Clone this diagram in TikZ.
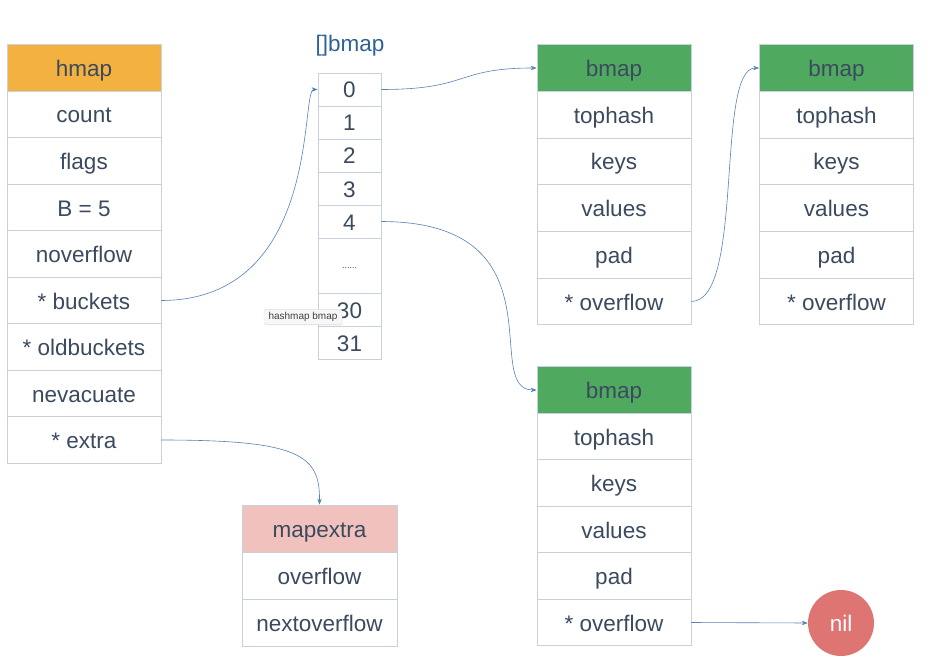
\documentclass[tikz,border=0pt]{standalone}
\usepackage{fontspec}
\setmainfont{Liberation Sans}
\usetikzlibrary{arrows.meta,shadows}
\definecolor{txt}{HTML}{3B4A5E}
\definecolor{bord}{HTML}{C9D1DC}
\definecolor{horange}{HTML}{F3B13F}
\definecolor{bgreen}{HTML}{4FAA60}
\definecolor{mpink}{HTML}{F0C1BD}
\definecolor{nilred}{HTML}{DE7572}
\definecolor{arr}{HTML}{5581B3}
\definecolor{ttl}{HTML}{2E6197}
\tikzset{
  cell/.style={draw=bord, line width=0.8pt, fill=white, inner sep=0pt, minimum width=154pt,
    font=\fontsize{22.5}{26}\selectfont, text=txt, text height=19pt, text depth=2pt},
  acell/.style={cell, minimum width=63pt},
  link/.style={draw=arr, line width=0.6pt, -{Stealth[length=6pt,width=4.5pt]}},
}
\begin{document}
\begin{tikzpicture}[x=1pt,y=-1pt]
\useasboundingbox (0,0) rectangle (933,663);
% hmap
\node[cell, fill=horange, minimum height=46.5pt] (h0) at (84,68) {hmap};
\foreach \t [count=\i] in {count,flags,B = 5,noverflow,* buckets,* oldbuckets,nevacuate,* extra}
  \node[cell, minimum height=46.5pt] (h\i) at (84,{68+46.5*\i}) {\t};
% array
\node[font=\fontsize{22.5}{26}\selectfont, text=ttl] (atitle) at (350,46) {[]bmap};
\node[acell, minimum height=33pt] (a0) at (349.5,89.5) {0};
\node[acell, minimum height=33pt] (a1) at (349.5,122.5) {1};
\node[acell, minimum height=33pt] (a2) at (349.5,155.5) {2};
\node[acell, minimum height=33pt] (a3) at (349.5,188.5) {3};
\node[acell, minimum height=33pt] (a4) at (349.5,221.5) {4};
\node[acell, minimum height=55.5pt, font=\fontsize{9}{10}\selectfont, text height=6pt, text depth=0pt] (a5) at (349.5,265.75) {......};
\node[acell, minimum height=33pt] (a30) at (349.5,310) {30};
\node[acell, minimum height=33pt] (a31) at (349.5,343) {31};
% bmap 1
\node[cell, fill=bgreen, minimum height=46.7pt] (b0) at (614,68) {bmap};
\foreach \t [count=\i] in {tophash,keys,values,pad,* overflow}
  \node[cell, minimum height=46.7pt] (b\i) at (614,{68+46.7*\i}) {\t};
% bmap 2
\node[cell, fill=bgreen, minimum height=46.7pt] (c0) at (836.5,68) {bmap};
\foreach \t [count=\i] in {tophash,keys,values,pad,* overflow}
  \node[cell, minimum height=46.7pt] (c\i) at (836.5,{68+46.7*\i}) {\t};
% bmap 3
\node[cell, fill=bgreen, minimum height=46.5pt] (d0) at (614,390) {bmap};
\foreach \t [count=\i] in {tophash,keys,values,pad,* overflow}
  \node[cell, minimum height=46.5pt] (d\i) at (614,{390+46.5*\i}) {\t};
% mapextra
\node[cell, fill=mpink, minimum width=155pt, minimum height=47pt] (m0) at (319.5,528.5) {mapextra};
\node[cell, minimum width=155pt, minimum height=47pt] (m1) at (319.5,575.5) {overflow};
\node[cell, minimum width=155pt, minimum height=47pt] (m2) at (319.5,622.5) {nextoverflow};
% nil
\node[circle, fill=nilred, minimum size=66pt, inner sep=0pt, text=white,
  font=\fontsize{22.5}{26}\selectfont, text height=19pt, text depth=2pt] (nil) at (841,623) {nil};
% connectors
\draw[link] (h5.east) .. controls (322,300) and (300,89.5) .. (a0.west);
\draw[link] (a0.east) .. controls (470,89.5) and (455,68) .. (b0.west);
\draw[link] (a4.east) .. controls (565,222) and (480,390) .. (d0.west);
\draw[link] (b5.east) .. controls (745,301) and (715,68) .. (c0.west);
\draw[link] (h8.east) .. controls (300,440) and (320,455) .. (m0.north);
\draw[link] (d5.east) -- (nil.west);
% tooltip
\node[draw=black!12, fill=black!3, rounded corners=1.5pt, inner xsep=4.5pt, inner ysep=3pt,
  font=\fontsize{10}{11}\selectfont, text=black!75, drop shadow={opacity=0.15, shadow xshift=0.5pt, shadow yshift=-0.8pt}]
  (tip) at (303,317) {hashmap bmap};
\end{tikzpicture}
\end{document}
